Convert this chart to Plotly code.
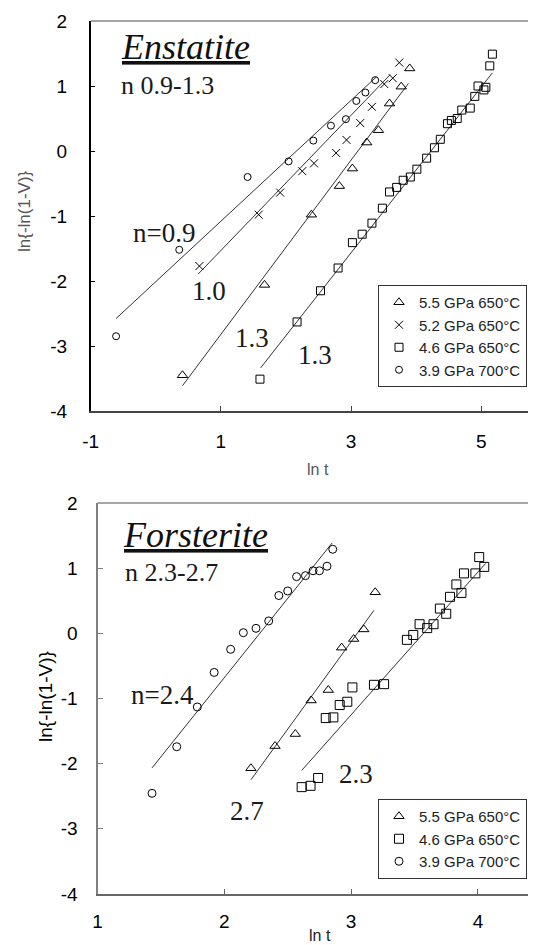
import numpy as np
import plotly.graph_objects as go

# ---------------- Enstatite (top panel) ----------------
en_tri_x = [0.41, 1.67, 2.39, 2.82, 3.02, 3.24, 3.42, 3.59, 3.77, 3.90]
en_tri_y = [-3.45, -2.06, -0.98, -0.54, -0.27, 0.13, 0.32, 0.73, 0.99, 1.27]
en_xx_x = [0.67, 1.58, 1.91, 2.25, 2.43, 2.77, 2.93, 3.14, 3.32, 3.51, 3.64, 3.74]
en_xx_y = [-1.77, -0.98, -0.64, -0.31, -0.19, -0.03, 0.17, 0.43, 0.68, 1.03, 1.12, 1.36]
en_sq_x = [1.60, 2.17, 2.53, 2.80, 3.02, 3.17, 3.32, 3.48, 3.59, 3.70, 3.80, 3.91, 4.01,
           4.16, 4.28, 4.37, 4.48, 4.54, 4.63, 4.70, 4.83, 4.90, 4.95, 5.04, 5.07, 5.13, 5.17]
en_sq_y = [-3.51, -2.63, -2.15, -1.80, -1.41, -1.28, -1.11, -0.88, -0.63, -0.56, -0.45, -0.40, -0.28,
           -0.11, 0.05, 0.18, 0.42, 0.47, 0.50, 0.63, 0.66, 0.84, 1.00, 0.94, 0.98, 1.31, 1.49]
en_ci_x = [-0.61, 0.36, 1.41, 2.04, 2.42, 2.69, 2.92, 3.08, 3.22, 3.37]
en_ci_y = [-2.85, -1.52, -0.40, -0.16, 0.16, 0.39, 0.49, 0.77, 0.90, 1.09]
en_names = ["5.5 GPa 650°C", "5.2 GPa 650°C", "4.6 GPa 650°C", "3.9 GPa 700°C"]
# fitted lines (slope n, intercept, x-extent) for tri, x, square, circle
en_fit_n = [1.34, 1.04, 1.275, 0.93]
en_fit_b = [-4.16, -2.57, -5.39, -2.01]
en_fit_x0 = [0.41, 0.65, 1.61, -0.61]
en_fit_x1 = [3.88, 3.60, 5.17, 3.39]
en_lab_text = ["n=0.9", "1.0", "1.3", "1.3"]
en_lab_x = [0.13, 0.82, 1.48, 2.44]
en_lab_y = [-1.26, -2.16, -2.88, -3.14]
en_xticks = [-1, 1, 3, 5]
en_xtick_text = ["-1", "1", "3", "5"]

# ---------------- Forsterite (bottom panel) ----------------
fo_tri_x = [2.21, 2.40, 2.56, 2.685, 2.82, 2.925, 3.02, 3.10, 3.19]
fo_tri_y = [-2.07, -1.73, -1.545, -1.03, -0.87, -0.22, -0.087, 0.06, 0.63]
fo_sq_x = [2.61, 2.68, 2.74, 2.80, 2.86, 2.91, 2.97, 3.01, 3.18, 3.26, 3.44, 3.49, 3.54, 3.60,
           3.65, 3.70, 3.75, 3.78, 3.83, 3.87, 3.89, 3.98, 4.01, 4.05]
fo_sq_y = [-2.36, -2.34, -2.22, -1.30, -1.29, -1.10, -1.05, -0.83, -0.79, -0.78, -0.10, -0.025, 0.14, 0.08,
           0.14, 0.38, 0.30, 0.56, 0.75, 0.62, 0.92, 0.92, 1.17, 1.02]
fo_ci_x = [1.43, 1.625, 1.787, 1.92, 2.05, 2.15, 2.25, 2.35, 2.43, 2.50, 2.57, 2.64, 2.70, 2.75, 2.81, 2.855]
fo_ci_y = [-2.455, -1.74, -1.13, -0.60, -0.245, 0.01, 0.077, 0.19, 0.58, 0.65, 0.87, 0.885, 0.96, 0.96, 1.03, 1.29]
fo_names = ["5.5 GPa 650°C", "4.6 GPa 650°C", "3.9 GPa 700°C"]
fo_fit_n = [2.68, 2.19, 2.43]
fo_fit_b = [-8.17, -7.82, -5.54]
fo_fit_x0 = [2.21, 2.61, 1.43]
fo_fit_x1 = [3.18, 4.06, 2.85]
fo_lab_text = ["n=2.4", "2.7", "2.3"]
fo_lab_x = [1.51, 2.18, 3.04]
fo_lab_y = [-0.95, -2.72, -2.16]
fo_xticks = [1, 2, 3, 4]
fo_xtick_text = ["1", "2", "3", "4"]

y_ticks = [-4, -3, -2, -1, 0, 1, 2]
y_tick_text = ["-4", "-3", "-2", "-1", "0", "1", "2"]

SERIF = "Liberation Serif, Times New Roman, serif"
SANS = "Liberation Sans, Arial, sans-serif"

# page body has an 8px margin: figure is placed at (8, 8) in the window
OFF = 8
W, H = 536 - OFF, 945 - OFF


def px(p):
    return (p - OFF) / W


def py(p):
    return 1 - (p - OFF) / H


fig = go.Figure()


def add_points(xs, ys, name, symbol, size, xa, ya, legend):
    fig.add_trace(go.Scatter(
        x=xs, y=ys, mode="markers", name=name, xaxis=xa, yaxis=ya, legend=legend,
        marker=dict(symbol=symbol, size=size, color="black",
                    line=dict(color="black", width=1)),
    ))


def add_fit(n, b, x0, x1, xa, ya):
    xs = np.linspace(x0, x1, 20)
    fig.add_trace(go.Scatter(
        x=xs, y=n * xs + b, mode="lines", showlegend=False, xaxis=xa, yaxis=ya,
        line=dict(color="#333333", width=1), hoverinfo="skip",
    ))


# top panel
for i in range(4):
    add_fit(en_fit_n[i], en_fit_b[i], en_fit_x0[i], en_fit_x1[i], "x", "y")
add_points(en_tri_x, en_tri_y, en_names[0], "triangle-up-open", 9, "x", "y", "legend")
add_points(en_xx_x, en_xx_y, en_names[1], "x-thin-open", 8, "x", "y", "legend")
add_points(en_sq_x, en_sq_y, en_names[2], "square-open", 8, "x", "y", "legend")
add_points(en_ci_x, en_ci_y, en_names[3], "circle-open", 7, "x", "y", "legend")

# bottom panel
for i in range(3):
    add_fit(fo_fit_n[i], fo_fit_b[i], fo_fit_x0[i], fo_fit_x1[i], "x2", "y2")
add_points(fo_tri_x, fo_tri_y, fo_names[0], "triangle-up-open", 9, "x2", "y2", "legend2")
add_points(fo_sq_x, fo_sq_y, fo_names[1], "square-open", 9, "x2", "y2", "legend2")
add_points(fo_ci_x, fo_ci_y, fo_names[2], "circle-open", 8, "x2", "y2", "legend2")

annotations = []
for t, x, y in zip(en_lab_text, en_lab_x, en_lab_y):
    annotations.append(dict(x=x, y=y, xref="x", yref="y", text=t, showarrow=False,
                            font=dict(family=SERIF, size=27, color="#1a1a1a")))
for t, x, y in zip(fo_lab_text, fo_lab_x, fo_lab_y):
    annotations.append(dict(x=x, y=y, xref="x2", yref="y2", text=t, showarrow=False,
                            font=dict(family=SERIF, size=27, color="#1a1a1a")))

# titles
annotations += [
    dict(x=px(119), y=py(47), xref="paper", yref="paper", xanchor="left", yanchor="middle",
         text="<i><u>Enstatite</u></i>", showarrow=False,
         font=dict(family=SERIF, size=36, color="#111111")),
    dict(x=px(119), y=py(86), xref="paper", yref="paper", xanchor="left", yanchor="middle",
         text="n 0.9-1.3", showarrow=False, font=dict(family=SERIF, size=26, color="#1a1a1a")),
    dict(x=px(121), y=py(535), xref="paper", yref="paper", xanchor="left", yanchor="middle",
         text="<i><u>Forsterite</u></i>", showarrow=False,
         font=dict(family=SERIF, size=36, color="#111111")),
    dict(x=px(123), y=py(572), xref="paper", yref="paper", xanchor="left", yanchor="middle",
         text="n 2.3-2.7", showarrow=False, font=dict(family=SERIF, size=26, color="#1a1a1a")),
    # axis titles
    dict(x=px(25), y=py(211), xref="paper", yref="paper", xanchor="center", yanchor="middle",
         text="ln{-ln(1-V)}", textangle=-90, showarrow=False,
         font=dict(family=SANS, size=17, color="#555555")),
    dict(x=px(45), y=py(697), xref="paper", yref="paper", xanchor="center", yanchor="middle",
         text="ln{-ln(1-V)}", textangle=-90, showarrow=False,
         font=dict(family=SANS, size=19, color="#000000")),
    dict(x=px(318), y=py(470), xref="paper", yref="paper", xanchor="center", yanchor="middle",
         text="ln t", showarrow=False, font=dict(family=SANS, size=16, color="#555555")),
    dict(x=px(320), y=0, xref="paper", yref="paper", xanchor="center", yanchor="bottom",
         text="ln t", showarrow=False, font=dict(family=SANS, size=16, color="#222222"),
         borderpad=0),
]

tickfont = dict(family=SANS, size=19, color="black")
common = dict(showgrid=False, zeroline=False, showline=True, ticks="inside", ticklen=5,
              tickfont=tickfont, automargin=False)

fig.update_layout(
    template="none",
    width=W, height=H,
    margin=dict(l=0, r=0, t=0, b=0, autoexpand=False),
    paper_bgcolor="white", plot_bgcolor="white",
    showlegend=True,
    xaxis=dict(domain=[px(90.7), 1], range=[-1, 5.84], anchor="y", tickvals=en_xticks,
               ticktext=en_xtick_text,
               linecolor="#444444", linewidth=1.5, tickcolor="#444444", ticklabelstandoff=12, **common),
    yaxis=dict(domain=[py(411), py(21)], range=[-4, 2], anchor="x", tickvals=y_ticks,
               ticktext=y_tick_text,
               linecolor="black", linewidth=1.5, tickcolor="black", ticklabelstandoff=18, **common),
    xaxis2=dict(domain=[px(97.5), 1], range=[1, 4.458], anchor="y2", tickvals=fo_xticks,
                ticktext=fo_xtick_text,
                linecolor="#666666", linewidth=2, tickcolor="#666666", ticklabelstandoff=9, **common),
    yaxis2=dict(domain=[py(894), py(503)], range=[-4, 2], anchor="x2", tickvals=y_ticks,
                ticktext=y_tick_text,
                linecolor="#7f7f7f", linewidth=2, tickcolor="#7f7f7f", ticklabelstandoff=14, **common),
    legend=dict(x=px(527), xanchor="right", y=py(285), yanchor="top",
                bgcolor="white", bordercolor="#333333", borderwidth=1, itemwidth=30,
                font=dict(family=SANS, size=15, color="#222222"), tracegroupgap=0),
    legend2=dict(x=px(527), xanchor="right", y=py(799), yanchor="top",
                 bgcolor="white", bordercolor="#333333", borderwidth=1, itemwidth=30,
                 font=dict(family=SANS, size=15, color="#222222"), tracegroupgap=0),
    annotations=annotations,
    shapes=[
        dict(type="line", xref="x domain", yref="y domain", x0=0, x1=1, y0=1, y1=1,
             line=dict(color="#888888", width=1.5)),
        dict(type="line", xref="x2 domain", yref="y2 domain", x0=0, x1=1, y0=1, y1=1,
             line=dict(color="#888888", width=1.5)),
    ],
)

fig.write_html("out.html")
